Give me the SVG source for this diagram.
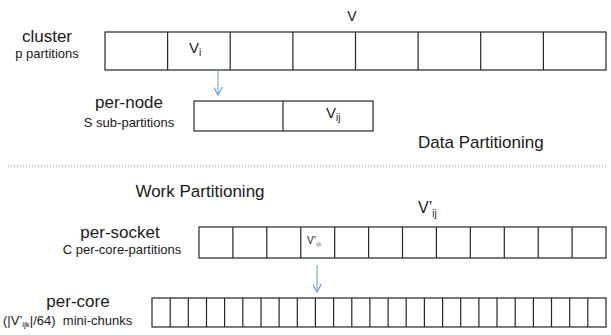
<svg xmlns="http://www.w3.org/2000/svg" width="611" height="335" viewBox="0 0 611 335">
<defs>
<style>
text{font-family:"Liberation Sans",Arial,sans-serif;fill:#1a1a1a}
.big{font-size:17px}
.sm{font-size:13px}
.box{fill:#fff;stroke:#262626;stroke-width:1.2}
.div{stroke:#262626;stroke-width:1.2}
.arr{stroke:#5b9bd5;stroke-width:1;fill:none}
</style>
<marker id="ah" viewBox="0 0 10 10" refX="9" refY="5" markerWidth="9" markerHeight="9" markerUnits="userSpaceOnUse" orient="auto">
<path d="M0,0 L9,5 L0,10" fill="none" stroke="#5b9bd5" stroke-width="1.2"/>
</marker>
</defs>
<rect width="611" height="335" fill="#fff"/>

<g id="cluster">
<text class="big" x="47" y="42" text-anchor="middle">cluster</text>
<text class="sm" x="47" y="58" text-anchor="middle">p partitions</text>
<text x="352" y="21" font-size="14" text-anchor="middle">V</text>
<rect class="box" x="105" y="32" width="501" height="38"/>
<path class="div" d="M167.6,32V70M230.2,32V70M292.9,32V70M355.5,32V70M418.1,32V70M480.7,32V70M543.4,32V70"/>
<text x="189" y="53" font-size="15">V<tspan font-size="10" dy="3">i</tspan></text>
</g>

<g id="per-node">
<text class="big" x="129" y="108" text-anchor="middle">per-node</text>
<text class="sm" x="129" y="127" text-anchor="middle">S sub-partitions</text>
<rect class="box" x="194" y="101" width="179" height="30"/>
<path class="div" d="M283,101V131"/>
<text x="326" y="118" font-size="15">V<tspan font-size="10" dy="3">ij</tspan></text>
</g>

<g id="data-label">
<text class="big" x="418" y="148">Data Partitioning</text>
</g>

<line x1="8" y1="166" x2="606" y2="166" stroke="#8c8c8c" stroke-width="1" stroke-dasharray="1,2"/>

<g id="work-label">
<text class="big" x="200" y="197" text-anchor="middle">Work Partitioning</text>
</g>

<g id="per-socket">
<text class="big" x="120" y="238" text-anchor="middle">per-socket</text>
<text class="sm" x="122" y="254" text-anchor="middle">C per-core-partitions</text>
<text x="418" y="213" font-size="16">V’<tspan font-size="10" dy="4">ij</tspan></text>
<rect class="box" x="199" y="227" width="407" height="31"/>
<path class="div" d="M232.9,227V258M266.8,227V258M300.8,227V258M334.7,227V258M368.6,227V258M402.5,227V258M436.4,227V258M470.3,227V258M504.3,227V258M538.2,227V258M572.1,227V258"/>
<text x="307" y="244" font-size="10">V’<tspan font-size="6" dy="2" fill="#777">ijk</tspan></text>
</g>

<g id="per-core">
<text class="big" x="78" y="307" text-anchor="middle">per-core</text>
<text class="sm" x="3" y="325" xml:space="preserve">(|V’<tspan font-size="8" dy="2">ijk</tspan><tspan dy="-2">|/64)  mini-chunks</tspan></text>
<rect class="box" x="152" y="298" width="454" height="29"/>
<path class="div" d="M170.2,298V327M188.3,298V327M206.5,298V327M224.6,298V327M242.8,298V327M261,298V327M279.1,298V327M297.3,298V327M315.4,298V327M333.6,298V327M351.8,298V327M369.9,298V327M388.1,298V327M406.2,298V327M424.4,298V327M442.6,298V327M460.7,298V327M478.9,298V327M497,298V327M515.2,298V327M533.4,298V327M551.5,298V327M569.7,298V327M587.8,298V327"/>
</g>

<g id="connectors">
<line class="arr" x1="218" y1="70" x2="218" y2="95" marker-end="url(#ah)"/>
<line class="arr" x1="317" y1="265" x2="317" y2="292" marker-end="url(#ah)"/>
</g>
</svg>
